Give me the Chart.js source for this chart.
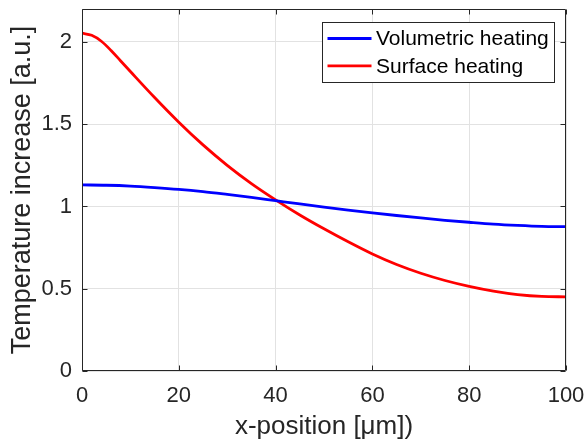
<!DOCTYPE html>
<html><head><meta charset="utf-8">
<script src="https://cdn.jsdelivr.net/npm/chart.js@4/dist/chart.umd.min.js"></script>
<style>html,body{margin:0;padding:0;background:#fff;}#wrap{width:586px;height:440px;position:relative;}</style>
</head><body><div id="wrap"><canvas id="c" width="586" height="440"></canvas></div>
<script>
// ---- data ----
const xVolumetric = [0,5,10,15,20,25,30,35,40,45,50,55,60,65,70,75,80,85,90,95,100];
const volumetricHeating = [1.131,1.129,1.124,1.115,1.104,1.090,1.073,1.055,1.035,1.015,0.996,0.978,0.961,0.945,0.930,0.916,0.904,0.893,0.885,0.879,0.877];
const xSurface = [0,2,4,6,8,10,15,20,25,30,35,40,45,50,55,60,65,70,75,80,85,90,95,100];
const surfaceHeating = [2.053,2.040,2.004,1.948,1.884,1.820,1.662,1.512,1.374,1.250,1.139,1.040,0.948,0.864,0.785,0.711,0.647,0.594,0.550,0.514,0.485,0.464,0.453,0.451];
const xTickValues = [0,20,40,60,80,100];
const yTickValues = [0,0.5,1,1.5,2];
const seriesLabels = ['Volumetric heating','Surface heating'];
const seriesColors = ['#0000ff','#ff0000'];
const xTitle = 'x-position [\u03bcm])';
const yTitle = 'Temperature increase [a.u.]';

const FONT = '"Liberation Sans", Arial, Helvetica, sans-serif';
const AXIS_COLOR = '#262626';
Chart.defaults.font.family = FONT;

const toPts = (xs, ys) => xs.map((x, i) => ({x: x, y: ys[i]}));
const noPad = s => { s.paddingLeft = 0; s.paddingRight = 0; s.paddingTop = 0; s.paddingBottom = 0; };

const boxPlugin = {
  id: 'matlabBox',
  afterDatasetsDraw(chart) {
    const {ctx, chartArea: a, scales} = chart;
    const L = Math.round(a.left) + 0.5, R = Math.round(a.right) - 0.5;
    const T = Math.round(a.top) + 0.5, B = Math.round(a.bottom) - 0.5;
    ctx.save();
    ctx.strokeStyle = AXIS_COLOR;
    ctx.lineWidth = 1;
    ctx.beginPath();
    ctx.rect(L, T, R - L, B - T);
    const tl = 5;
    xTickValues.forEach(v => {
      const px = Math.round(scales.x.getPixelForValue(v)) + 0.5;
      ctx.moveTo(px, B); ctx.lineTo(px, B - tl);
      ctx.moveTo(px, T); ctx.lineTo(px, T + tl);
    });
    yTickValues.forEach(v => {
      const py = Math.round(scales.y.getPixelForValue(v)) + 0.5;
      ctx.moveTo(L, py); ctx.lineTo(L + tl, py);
      ctx.moveTo(R, py); ctx.lineTo(R - tl, py);
    });
    ctx.stroke();

    // legend
    const ds = chart.data.datasets;
    ctx.font = '21px ' + FONT;
    const textW = Math.max(...ds.map(d => ctx.measureText(d.label).width));
    const padL = 5, lineLen = 44, gap = 4.5, padR = 6;
    const w = Math.round(padL + lineLen + gap + textW + padR);
    const h = 60;
    const bx = Math.round(a.right - 12 - w) + 0.5;
    const by = Math.round(a.top + 12.5) + 0.5;
    ctx.fillStyle = '#ffffff';
    ctx.fillRect(bx, by, w, h);
    ctx.strokeStyle = AXIS_COLOR;
    ctx.strokeRect(bx, by, w, h);
    ds.forEach((d, i) => {
      const y = by + 16 + i * 27.3;
      ctx.strokeStyle = d.borderColor;
      ctx.lineWidth = 2.8;
      ctx.beginPath();
      ctx.moveTo(bx + padL, y); ctx.lineTo(bx + padL + lineLen, y);
      ctx.stroke();
      ctx.fillStyle = '#000000';
      ctx.textBaseline = 'middle';
      ctx.textAlign = 'left';
      ctx.fillText(d.label, bx + padL + lineLen + gap, y + 1);
    });
    ctx.restore();
  }
};

new Chart(document.getElementById('c'), {
  type: 'line',
  data: {
    datasets: [
      {label: seriesLabels[0], data: toPts(xVolumetric, volumetricHeating), borderColor: seriesColors[0]},
      {label: seriesLabels[1], data: toPts(xSurface, surfaceHeating), borderColor: seriesColors[1]}
    ]
  },
  options: {
    responsive: false,
    animation: false,
    devicePixelRatio: 1,
    layout: {autoPadding: false, padding: {left: 0, right: 20, top: 9, bottom: 0}},
    elements: {
      line: {borderWidth: 2.8, cubicInterpolationMode: 'monotone', fill: false},
      point: {radius: 0, hoverRadius: 0}
    },
    plugins: {legend: {display: false}, tooltip: {enabled: false}},
    scales: {
      x: {
        type: 'linear', min: 0, max: 100,
        afterBuildTicks: s => { s.ticks = xTickValues.map(v => ({value: v})); },
        afterFit: s => { s.height = 69; noPad(s); },
        grid: {color: '#e2e2e2', lineWidth: 1, drawTicks: false},
        border: {display: false},
        ticks: {color: AXIS_COLOR, font: {size: 22}, padding: 12, maxRotation: 0, autoSkip: false, callback: v => String(v)},
        title: {display: true, text: xTitle, color: AXIS_COLOR, font: {size: 26, lineHeight: 1}, padding: {top: 0, bottom: 0}}
      },
      y: {
        type: 'linear', min: 0, max: 2.2,
        afterBuildTicks: s => { s.ticks = yTickValues.map(v => ({value: v})); },
        afterFit: s => { s.width = 82; noPad(s); },
        grid: {color: '#e2e2e2', lineWidth: 1, drawTicks: false},
        border: {display: false},
        ticks: {color: AXIS_COLOR, font: {size: 22}, padding: 10, autoSkip: false, callback: v => String(v)},
        title: {display: true, text: yTitle, color: AXIS_COLOR, font: {size: 27, lineHeight: 1.2}, padding: {top: 6, bottom: 0}}
      }
    }
  },
  plugins: [boxPlugin]
});
</script></body></html>
